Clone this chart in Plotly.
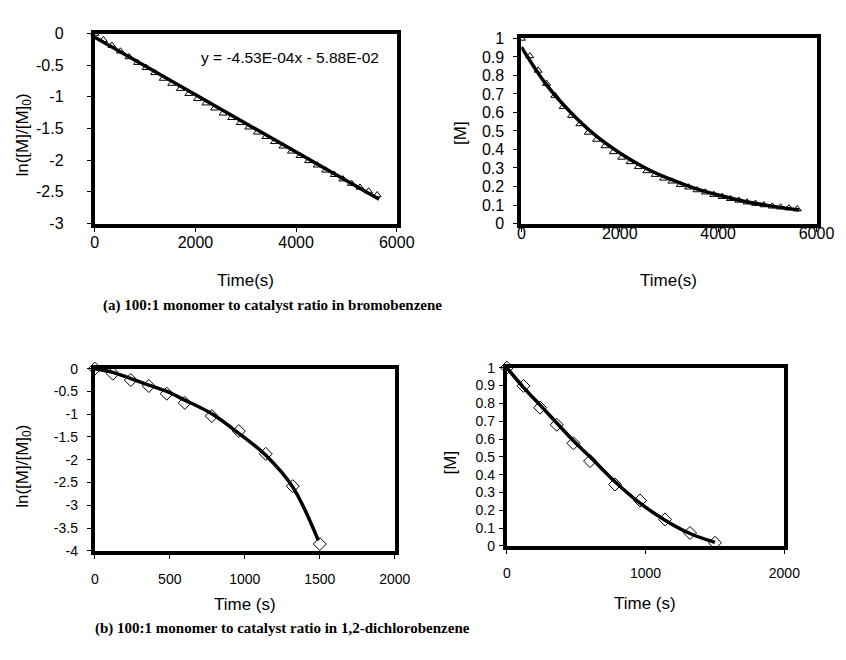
import plotly.graph_objects as go

W, H = 846, 660

# ---------------- data ----------------
# (a) bromobenzene
time_a = [0, 170, 340, 510, 680, 850, 1020, 1190, 1360, 1530, 1700, 1870, 2040, 2210,
          2380, 2550, 2720, 2890, 3060, 3230, 3400, 3570, 3740, 3910, 4080, 4250,
          4420, 4590, 4760, 4930, 5100, 5270, 5440, 5610]
ln_a = [0.0, -0.10, -0.19, -0.28, -0.37, -0.46, -0.54, -0.62, -0.71, -0.79, -0.87, -0.95,
        -1.03, -1.10, -1.18, -1.26, -1.33, -1.41, -1.48, -1.56, -1.63, -1.71, -1.78,
        -1.86, -1.93, -2.01, -2.08, -2.16, -2.23, -2.30, -2.37, -2.43, -2.49, -2.55]
conc_a = [1.0, 0.905, 0.827, 0.756, 0.691, 0.631, 0.583, 0.538, 0.492, 0.454, 0.419,
          0.387, 0.357, 0.333, 0.307, 0.284, 0.264, 0.244, 0.228, 0.210, 0.196, 0.181,
          0.169, 0.156, 0.145, 0.134, 0.125, 0.115, 0.108, 0.100, 0.093, 0.088, 0.083,
          0.078]
fit_ln_a_x = [0, 5650]
fit_ln_a_y = [-0.0588, -2.618]
fit_conc_a_x = [0, 500, 1000, 1500, 2000, 2500, 3000, 3500, 4000, 4500, 5000, 5650]
fit_conc_a_y = [0.953, 0.753, 0.601, 0.477, 0.381, 0.303, 0.242, 0.193, 0.154, 0.122,
                0.098, 0.073]

# (b) 1,2-dichlorobenzene
time_b = [0, 120, 240, 360, 480, 600, 780, 960, 1140, 1320, 1500]
ln_b = [0.0, -0.11, -0.25, -0.38, -0.55, -0.75, -1.04, -1.37, -1.87, -2.58, -3.85]
conc_b = [1.0, 0.898, 0.776, 0.68, 0.576, 0.476, 0.345, 0.255, 0.149, 0.073, 0.018]
fit_ln_b_x = [0, 120, 240, 360, 480, 600, 780, 960, 1140, 1320, 1490]
fit_ln_b_y = [0.0, -0.08, -0.22, -0.36, -0.50, -0.69, -0.99, -1.42, -1.90, -2.60, -3.77]
fit_conc_b_x = [0, 120, 240, 360, 480, 600, 780, 960, 1140, 1320, 1500]
fit_conc_b_y = [1.0, 0.89, 0.79, 0.69, 0.59, 0.50, 0.36, 0.24, 0.145, 0.07, 0.02]

# tick labels (hyphen minus as in the original)
yticks_a_ln = [0, -0.5, -1, -1.5, -2, -2.5, -3]
ytext_a_ln = ["0", "-0.5", "-1", "-1.5", "-2", "-2.5", "-3"]
yticks_b_ln = [0, -0.5, -1, -1.5, -2, -2.5, -3, -3.5, -4]
ytext_b_ln = ["0", "-0.5", "-1", "-1.5", "-2", "-2.5", "-3", "-3.5", "-4"]

equation_text = "y = -4.53E-04x - 5.88E-02"
caption_a = "(a) 100:1 monomer to catalyst ratio in bromobenzene"
caption_b = "(b) 100:1 monomer to catalyst ratio in 1,2-dichlorobenzene"

# ---------------- layout helpers ----------------
def px_x(x):
    return x / W

def px_y(y):
    return 1 - y / H

FONT = "Liberation Sans, Arial, sans-serif"
SERIF = "Liberation Serif, Times New Roman, serif"

fig = go.Figure()

def add_panel(idx, xs, ys, fx, fy, symbol, msize, spline):
    xa = "x" if idx == 1 else f"x{idx}"
    ya = "y" if idx == 1 else f"y{idx}"
    fig.add_trace(go.Scatter(
        x=xs, y=ys, mode="markers", xaxis=xa, yaxis=ya, showlegend=False,
        marker=dict(symbol=symbol, size=msize, color="white",
                    line=dict(color="black", width=1)),
        cliponaxis=False))
    fig.add_trace(go.Scatter(
        x=fx, y=fy, mode="lines", xaxis=xa, yaxis=ya, showlegend=False,
        line=dict(color="black", width=3.5, shape="spline" if spline else "linear"),
        cliponaxis=False))

add_panel(1, time_a, ln_a, fit_ln_a_x, fit_ln_a_y, "triangle-up", 7, False)
add_panel(2, time_a, conc_a, fit_conc_a_x, fit_conc_a_y, "triangle-up", 7, True)
add_panel(3, time_b, ln_b, fit_ln_b_x, fit_ln_b_y, "diamond", 10, True)
add_panel(4, time_b, conc_b, fit_conc_b_x, fit_conc_b_y, "diamond", 10, True)

def axis_common(size):
    return dict(showline=True, linecolor="black", linewidth=4, mirror=True,
                showgrid=False, zeroline=False, ticks="outside", ticklen=4,
                tickwidth=1, tickcolor="black",
                tickfont=dict(family=FONT, size=size, color="black"))

# domains (pixel boxes)
boxes = {
    1: (85, 395, 18, 213),
    2: (523, 826, 23, 213),
    3: (85, 393, 362, 549),
    4: (508, 793, 361, 544),
}

layout = dict(
    width=W, height=H, margin=dict(l=0, r=0, t=0, b=0),
    paper_bgcolor="white", plot_bgcolor="white", showlegend=False,
)

xr = {1: [0, 6000], 2: [0, 6000], 3: [0, 2000], 4: [0, 2000]}
xd = {1: 2000, 2: 2000, 3: 500, 4: 1000}
yr = {1: [-3, 0], 2: [0, 1], 3: [-4, 0], 4: [0, 1]}
yd = {1: 0.5, 2: 0.1, 3: 0.5, 4: 0.1}
xstand = {1: -3, 2: -12, 3: 8, 4: 7}
ystand = {1: 20, 2: 6, 3: 6, 4: 1}
fsize = {1: 16, 2: 16, 3: 14, 4: 14}

for i, (l, r, t, b) in boxes.items():
    xk = "xaxis" if i == 1 else f"xaxis{i}"
    yk = "yaxis" if i == 1 else f"yaxis{i}"
    ax = axis_common(fsize[i])
    ax.update(domain=[px_x(l), px_x(r)], range=xr[i], dtick=xd[i], tick0=0,
              anchor="y" if i == 1 else f"y{i}", ticklabelstandoff=xstand[i])
    ay = axis_common(fsize[i])
    ay.update(domain=[px_y(b), px_y(t)], range=yr[i], dtick=yd[i], tick0=0,
              anchor="x" if i == 1 else f"x{i}", ticklabelstandoff=ystand[i])
    layout[xk] = ax
    layout[yk] = ay

layout["yaxis"].update(tickmode="array", tickvals=yticks_a_ln, ticktext=ytext_a_ln)
layout["yaxis3"].update(tickmode="array", tickvals=yticks_b_ln, ticktext=ytext_b_ln)
layout["yaxis2"]["tickformat"] = "~g"
layout["yaxis4"]["tickformat"] = "~g"

annotations = []

def txt(x, y, text, size=17, font=FONT, angle=0, xanchor="center"):
    annotations.append(dict(
        x=px_x(x), y=px_y(y), xref="paper", yref="paper", text=text,
        showarrow=False, textangle=angle, xanchor=xanchor, yanchor="middle",
        font=dict(family=font, size=size, color="black")))

# axis titles
txt(240, 272, "Time(s)")
txt(674, 272, "Time(s)")
txt(239, 604, "Time (s)")
txt(650, 603, "Time (s)")
txt(12, 122, "ln([M]/[M]<sub>0</sub>)", angle=-90)
txt(461, 120, "[M]", angle=-90)
txt(12, 462, "ln([M]/[M]<sub>0</sub>)", angle=-90)
txt(450, 458, "[M]", angle=-90)

# equation
txt(285, 43, equation_text, size=15.5)

# captions
txt(91, 297, "<b>" + caption_a + "</b>", size=15, font=SERIF, xanchor="left")
txt(83, 629, "<b>" + caption_b + "</b>", size=15, font=SERIF, xanchor="left")

layout["annotations"] = annotations
fig.update_layout(**layout)

fig.write_html("out.html")
